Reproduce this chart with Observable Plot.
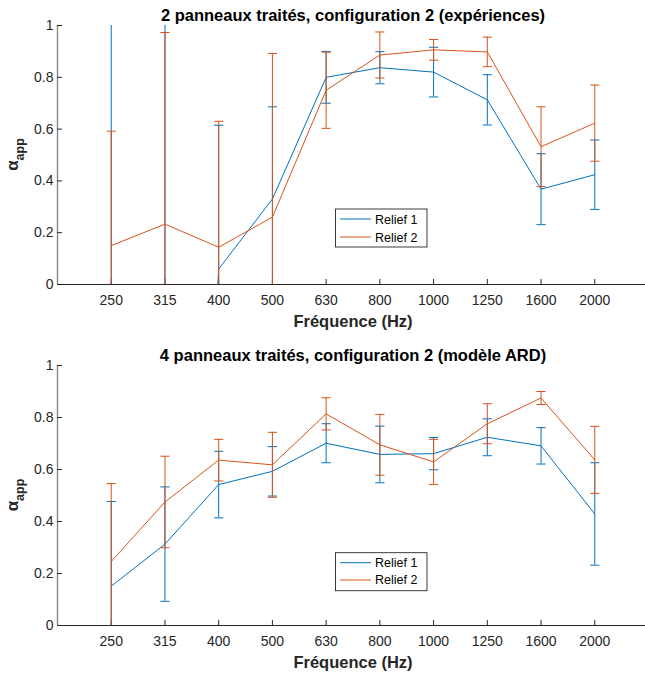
<!DOCTYPE html>
<html>
<head>
<meta charset="utf-8">
<script src="https://cdn.jsdelivr.net/npm/d3@7"></script>
<script src="https://cdn.jsdelivr.net/npm/@observablehq/plot@0.6"></script>
<style>
  html, body { margin: 0; padding: 0; background: #fff; }
  #chart { width: 645px; font-family: "Liberation Sans", Arial, sans-serif; }
  #chart svg { display: block; }
</style>
</head>
<body>
<div id="chart"></div>
<script>
// ---- data ----
const freqs = ["250", "315", "400", "500", "630", "800", "1000", "1250", "1600", "2000"];
const series = ["Relief 1", "Relief 2"];
const colors = ["#0072BD", "#D95319"];
const yTicks = [0, 0.2, 0.4, 0.6, 0.8, 1];

// panel 1 : 2 panneaux traités, configuration 2 (expériences)
const title1 = "2 panneaux traités, configuration 2 (expériences)";
const exp_relief1 = [-2.0, -3.5, 0.06, 0.33, 0.80, 0.837, 0.82, 0.713, 0.368, 0.424];
const exp_relief1_err = [3.2, 4.6, 0.555, 0.356, 0.10, 0.062, 0.096, 0.097, 0.137, 0.134];
const exp_relief2 = [0.15, 0.233, 0.144, 0.26, 0.75, 0.886, 0.906, 0.898, 0.532, 0.623];
const exp_relief2_err = [0.442, 0.74, 0.486, 0.632, 0.147, 0.089, 0.04, 0.057, 0.154, 0.147];

// panel 2 : 4 panneaux traités, configuration 2 (modèle ARD)
const title2 = "4 panneaux traités, configuration 2 (modèle ARD)";
const ard_relief1 = [0.151, 0.313, 0.542, 0.593, 0.701, 0.658, 0.661, 0.724, 0.691, 0.429];
const ard_relief1_err = [0.326, 0.22, 0.128, 0.095, 0.075, 0.109, 0.062, 0.071, 0.07, 0.197];
const ard_relief2 = [0.246, 0.475, 0.636, 0.618, 0.814, 0.695, 0.629, 0.776, 0.875, 0.637];
const ard_relief2_err = [0.30, 0.176, 0.08, 0.125, 0.062, 0.117, 0.087, 0.077, 0.025, 0.129];

const xLabel = "Fréquence (Hz)";
const FONT = "Liberation Sans, Arial, Helvetica, sans-serif";

function panel({title, r1, e1, r2, e2, height, marginTop, marginBottom, legendTop, legendGap}) {
  const rows = [];
  [[r1, e1], [r2, e2]].forEach(([v, e], s) =>
    freqs.forEach((f, i) => rows.push({series: series[s], idx: i + 1, freq: f, y: v[i], lo: v[i] - e[i], hi: v[i] + e[i]}))
  );
  const cap = {draw(ctx) { ctx.moveTo(-4.6, 0); ctx.lineTo(4.6, 0); }};
  const marks = [
    Plot.ruleX([0], {stroke: "#8a8a8a", strokeWidth: 1.4}),
    Plot.ruleY([0], {stroke: "#262626", strokeWidth: 1}),
    Plot.axisX(d3.range(1, freqs.length + 1), {
      tickFormat: i => freqs[i - 1], tickSize: -5, tickPadding: 16, fontSize: 14,
      color: "#262626", label: null
    }),
    Plot.axisY(yTicks, {
      tickFormat: d => String(d), tickSize: -5, tickPadding: 9, fontSize: 14,
      color: "#262626", label: null
    })
  ];
  for (const s of series) {
    const d = rows.filter(r => r.series === s);
    marks.push(Plot.ruleX(d, {x: "idx", y1: "lo", y2: "hi", stroke: "series", strokeWidth: 1, clip: true}));
    marks.push(Plot.dot(d, {x: "idx", y: "hi", symbol: cap, stroke: "series", strokeWidth: 1, clip: true}));
    marks.push(Plot.dot(d, {x: "idx", y: "lo", symbol: cap, stroke: "series", strokeWidth: 1, clip: true}));
    marks.push(Plot.line(d, {x: "idx", y: "y", stroke: "series", strokeWidth: 1, clip: true}));
  }
  marks.push(Plot.text([title], {text: d => d, frameAnchor: "top", dy: -9.6, lineAnchor: "middle",
    fontSize: 16.5, fontWeight: "bold", fill: "#000"}));
  marks.push(Plot.text([xLabel], {text: d => d, frameAnchor: "bottom", dy: 37.7, lineAnchor: "middle",
    fontSize: 16.5, fontWeight: "bold", fill: "#262626"}));

  const chart = Plot.plot({
    width: 645,
    height,
    marginLeft: 57,
    marginRight: -3,
    marginTop,
    marginBottom,
    style: {fontFamily: FONT, fontSize: "14px", color: "#262626", background: "#fff", overflow: "visible"},
    x: {type: "linear", domain: [0, 11], axis: null},
    y: {domain: [0, 1], axis: null},
    color: {domain: series, range: colors},
    marks
  });

  const svg = d3.select(chart.tagName.toLowerCase() === "svg" ? chart : chart.querySelector("svg"));
  // make sure tick labels get the intended size and font
  svg.selectAll('g[aria-label$="tick label"]')
    .attr("font-size", 14).style("font-size", "14px").style("font-family", FONT);

  const cy = marginTop + (height - marginTop - marginBottom) / 2;
  // y label: alpha_app
  const t = svg.append("text")
    .attr("transform", `translate(18,${cy}) rotate(-90)`)
    .attr("text-anchor", "middle")
    .attr("font-family", FONT)
    .attr("font-weight", "bold")
    .attr("fill", "#262626");
  t.append("tspan").attr("font-size", 17).text("α");
  t.append("tspan").attr("font-size", 12.5).attr("dy", 5.5).text("app");

  // legend
  const lg = svg.append("g").attr("transform", `translate(335.5,${legendTop})`);
  lg.append("rect").attr("width", 91.5).attr("height", 38)
    .attr("fill", "#fff").attr("stroke", "#262626").attr("stroke-width", 0.9);
  series.forEach((s, i) => {
    const yy = 10 + i * legendGap;
    lg.append("line").attr("x1", 4.5).attr("x2", 35.5).attr("y1", yy).attr("y2", yy)
      .attr("stroke", colors[i]).attr("stroke-width", 1);
    lg.append("text").attr("x", 39.5).attr("y", yy).attr("dy", "0.36em")
      .attr("text-anchor", "start")
      .attr("font-family", FONT).attr("font-size", 12.5).attr("fill", "#000").text(s);
  });
  return chart;
}

const root = document.getElementById("chart");
root.appendChild(panel({title: title1, r1: exp_relief1, e1: exp_relief1_err, r2: exp_relief2, e2: exp_relief2_err,
  height: 340, marginTop: 25, marginBottom: 56, legendTop: 209, legendGap: 18}));
root.appendChild(panel({title: title2, r1: ard_relief1, e1: ard_relief1_err, r2: ard_relief2, e2: ard_relief2_err,
  height: 333, marginTop: 25, marginBottom: 48, legendTop: 212.7, legendGap: 17.3}));
</script>
</body>
</html>
